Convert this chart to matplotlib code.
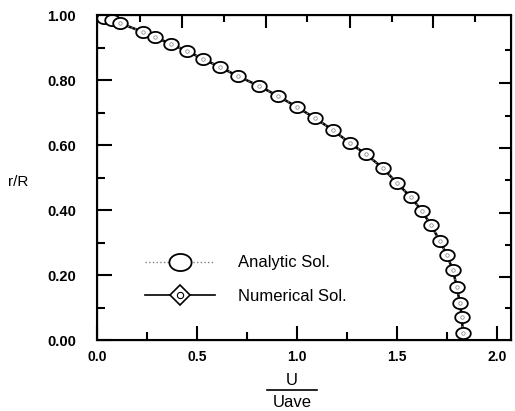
import numpy as np
import matplotlib
matplotlib.use('Agg')
import matplotlib.pyplot as plt
from matplotlib.path import Path
from matplotlib.lines import Line2D
from matplotlib.legend_handler import HandlerTuple

plt.rcParams['font.family'] = ['Liberation Sans', 'DejaVu Sans']

# velocity profile, U/Uave against r/R
r_ana = [1.000, 0.992, 0.984, 0.975, 0.948, 0.932, 0.911, 0.889, 0.865, 0.840,
         0.812, 0.782, 0.751, 0.717, 0.683, 0.646, 0.606, 0.572, 0.529, 0.483,
         0.440, 0.397, 0.354, 0.305, 0.262, 0.215, 0.163, 0.114, 0.071, 0.022]
u_ana = [0.000, 0.035, 0.075, 0.115, 0.230, 0.290, 0.370, 0.450, 0.530, 0.615,
         0.705, 0.810, 0.905, 1.000, 1.090, 1.180, 1.265, 1.345, 1.430, 1.500,
         1.570, 1.625, 1.670, 1.715, 1.750, 1.780, 1.800, 1.815, 1.825, 1.830]

r_num = [0.975, 0.948, 0.932, 0.911, 0.889, 0.865, 0.840, 0.812, 0.782, 0.751,
         0.717, 0.683, 0.646, 0.606, 0.572, 0.529, 0.483, 0.440, 0.397, 0.354,
         0.305, 0.262, 0.215, 0.163, 0.114, 0.071, 0.022]
u_num = [0.115, 0.230, 0.290, 0.370, 0.450, 0.530, 0.615, 0.705, 0.810, 0.905,
         1.000, 1.090, 1.180, 1.265, 1.345, 1.430, 1.500, 1.570, 1.625, 1.670,
         1.715, 1.750, 1.780, 1.800, 1.815, 1.825, 1.830]

# wide ellipse marker
t = np.linspace(0, 2 * np.pi, 64)
ellipse = Path(np.column_stack([1.3 * np.cos(t), np.sin(t)]), closed=True)

fig = plt.figure(figsize=(5.15, 4.11), dpi=100)
ax = fig.add_axes([0.188, 0.1727, 0.804, 0.7908])

ax.plot(u_num, r_num, '-', color='black', lw=1.8, zorder=2)
ax.plot(u_ana, r_ana, ':', color='gray', lw=1.0, marker=ellipse, ms=10.5,
        mfc='white', mec='black', mew=1.3, zorder=3)
ax.plot(u_num, r_num, 'o', ms=2.5, mfc='white', mec='gray', mew=0.5,
        zorder=4)

ax.set_xlim(0, 2.07)
ax.set_ylim(0, 1.0)
ax.set_xticks(np.arange(0, 2.01, 0.5))
ax.set_xticks(np.arange(0, 2.07, 0.25), minor=True)
ax.set_yticks(np.arange(0, 1.01, 0.2))
ax.set_yticks(np.arange(0, 1.01, 0.1), minor=True)
ax.set_xticklabels(['%.1f' % v for v in np.arange(0, 2.01, 0.5)],
                   fontsize=10, fontweight='bold')
ax.set_yticklabels(['%.2f' % v for v in np.arange(0, 1.01, 0.2)],
                   fontsize=10.5, fontweight='bold')
ax.tick_params(which='major', direction='in', length=10, width=1.5)
ax.tick_params(which='minor', direction='in', length=5.5, width=1.5)
ax.tick_params(axis='y', which='major', length=11, pad=15)
ax.tick_params(axis='x', pad=7)
for s in ax.spines.values():
    s.set_linewidth(1.5)

# top and right ticks sit on their own spacing
top = ax.twiny()
top.set_xlim(ax.get_xlim())
top.set_xticks([0.425, 0.845, 1.265, 1.68])
top.set_xticks([0.215, 0.635, 1.05, 1.475, 1.89], minor=True)
top.tick_params(which='major', direction='in', length=9, width=1.5,
                labeltop=False)
top.tick_params(which='minor', direction='in', length=5, width=1.5)

right = ax.twinx()
right.set_ylim(ax.get_ylim())
right.set_yticks([0.194, 0.391, 0.591, 0.791])
right.set_yticks([0.098, 0.292, 0.492, 0.689, 0.892], minor=True)
right.tick_params(which='major', direction='in', length=9, width=1.5,
                  labelright=False)
right.tick_params(which='minor', direction='in', length=4, width=1.5)

h_ana = Line2D([], [], ls=':', color='gray', lw=1.0, marker=ellipse, ms=16,
               mfc='white', mec='black', mew=1.3)
h_num_d = Line2D([], [], ls='-', color='black', lw=1.2, marker='D', ms=10,
                 mfc='white', mec='black', mew=1.2)
h_num_o = Line2D([], [], ls='none', marker='o', ms=4.5, mfc='white',
                 mec='black', mew=0.8)
ax.legend([h_ana, (h_num_d, h_num_o)], ['Analytic Sol.', 'Numerical Sol.'],
          handler_map={tuple: HandlerTuple(ndivide=1)},
          loc='center left', bbox_to_anchor=(0.116, 0.186), frameon=False,
          fontsize=12, handlelength=4.2, handletextpad=1.4,
          labelspacing=1.1, borderpad=0, borderaxespad=0)

fig.text(18 / 515, 1 - 182 / 411, 'r/R', fontsize=11, ha='center',
         va='center')
fig.text(292 / 515, 1 - 380 / 411, 'U', fontsize=12, ha='center',
         va='center')
fig.add_artist(Line2D([267 / 515, 317 / 515], [1 - 390 / 411, 1 - 390 / 411],
                      color='black', lw=1.2))
fig.text(292 / 515, 1 - 402 / 411, 'Uave', fontsize=12, ha='center',
         va='center')

fig.savefig('out.png', dpi=100)
